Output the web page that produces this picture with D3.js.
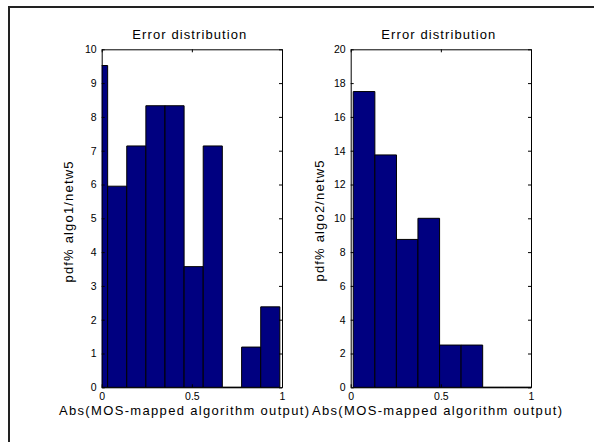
<!DOCTYPE html>
<html>
<head>
<meta charset="utf-8">
<script src="https://cdn.jsdelivr.net/npm/d3@7"></script>
<style>
  body { margin: 0; background: #fff; }
  svg { display: block; font-family: "Liberation Sans", Arial, sans-serif; }
  .tick text { font-size: 10.5px; fill: #000; }
  .tick line, .domain { stroke: #000; }
</style>
</head>
<body>
<svg id="chart" width="594" height="442"></svg>
<script>
// values (bin left edges in x units, pdf in %)
var binEdges1 = [-0.073, 0.033, 0.139, 0.245, 0.351, 0.457, 0.563, 0.670, 0.776, 0.882];
var binWidth1 = 0.106;
var pdf1 = [9.52, 5.95, 7.14, 8.33, 8.33, 3.57, 7.14, 0, 1.19, 2.38];

var binEdges2 = [0.014, 0.134, 0.253, 0.373, 0.493, 0.612, 0.732, 0.852, 0.972];
var binWidth2 = 0.12;
var pdf2 = [17.5, 13.75, 8.75, 10, 2.5, 2.5, 0, 0, 0];

var xTicks = [0, 0.5, 1];
var yTicks1 = [0, 1, 2, 3, 4, 5, 6, 7, 8, 9, 10];
var yTicks2 = [0, 2, 4, 6, 8, 10, 12, 14, 16, 18, 20];
var titles = ["Error distribution", "Error distribution"];
var yLabels = ["pdf% algo1/netw5", "pdf% algo2/netw5"];
var xLabel = "Abs(MOS-mapped algorithm output)";

var svg = d3.select("#chart");

// figure frame
svg.append("rect")
  .attr("x", 9).attr("y", 7).attr("width", 600).attr("height", 450)
  .attr("fill", "none").attr("stroke", "#222").attr("stroke-width", 2);

var plotTop = 49.3, plotBottom = 387.3;

var panels = [
  { x0: 101.7, x1: 282, ymax: 10, yticks: yTicks1, edges: binEdges1, w: binWidth1, vals: pdf1,
    title: titles[0], ylab: yLabels[0], ylabX: 73, ylabY: 222, xlabX: 184 },
  { x0: 350.7, x1: 531, ymax: 20, yticks: yTicks2, edges: binEdges2, w: binWidth2, vals: pdf2,
    title: titles[1], ylab: yLabels[1], ylabX: 324, ylabY: 221, xlabX: 437 }
];

panels.forEach(function(p, idx) {
  var x = d3.scaleLinear().domain([0, 1]).range([p.x0, p.x1]);
  var y = d3.scaleLinear().domain([0, p.ymax]).range([plotBottom, plotTop]);
  var g = svg.append("g");

  g.append("clipPath").attr("id", "clip" + idx)
    .append("rect")
    .attr("x", p.x0).attr("y", plotTop - 2)
    .attr("width", p.x1 - p.x0).attr("height", plotBottom - plotTop + 4);

  // bars as closed paths so that empty bins still show their black outline
  g.append("g").attr("clip-path", "url(#clip" + idx + ")")
    .selectAll("path").data(p.vals).enter().append("path")
    .attr("d", function(d, i) {
      var xa = x(p.edges[i]), xb = x(p.edges[i] + p.w), yt = y(d);
      return "M" + xa + "," + plotBottom + "V" + yt + "H" + xb + "V" + plotBottom + "Z";
    })
    .attr("fill", "#000080")
    .attr("stroke", "#000")
    .attr("stroke-width", 1);

  g.append("g").attr("transform", "translate(" + p.x0 + ",0)")
    .call(d3.axisLeft(y).tickValues(p.yticks).tickSizeInner(-3).tickSizeOuter(0).tickPadding(5));
  g.append("g").attr("transform", "translate(" + p.x1 + ",0)")
    .call(d3.axisRight(y).tickValues(p.yticks).tickSizeInner(-3).tickSizeOuter(0).tickFormat(""));
  g.append("g").attr("transform", "translate(0," + plotBottom + ")")
    .call(d3.axisBottom(x).tickValues(xTicks).tickSizeInner(-3).tickSizeOuter(0).tickPadding(5)
      .tickFormat(function(d) { return d === 0.5 ? "0.5" : d3.format("d")(d); }));
  g.append("g").attr("transform", "translate(0," + plotTop + ")")
    .call(d3.axisTop(x).tickValues(xTicks).tickSizeInner(-3).tickSizeOuter(0).tickFormat(""));

  g.selectAll(".tick line").attr("stroke", "#000");
  g.selectAll(".tick text").attr("font-family", "Liberation Sans, Arial, sans-serif").attr("font-size", 10.5);

  g.append("text")
    .attr("x", (p.x0 + p.x1) / 2 - 2.5).attr("y", 39)
    .attr("text-anchor", "middle").attr("font-size", 13)
    .attr("textLength", 114).attr("lengthAdjust", "spacing")
    .text(p.title);

  g.append("text")
    .attr("transform", "translate(" + p.ylabX + "," + p.ylabY + ") rotate(-90)")
    .attr("text-anchor", "middle").attr("font-size", 13)
    .attr("textLength", 121).attr("lengthAdjust", "spacing")
    .text(p.ylab);

  g.append("text")
    .attr("x", p.xlabX).attr("y", 415)
    .attr("text-anchor", "middle").attr("font-size", 13)
    .attr("textLength", 250).attr("lengthAdjust", "spacing")
    .text(xLabel);
});
</script>
</body>
</html>
